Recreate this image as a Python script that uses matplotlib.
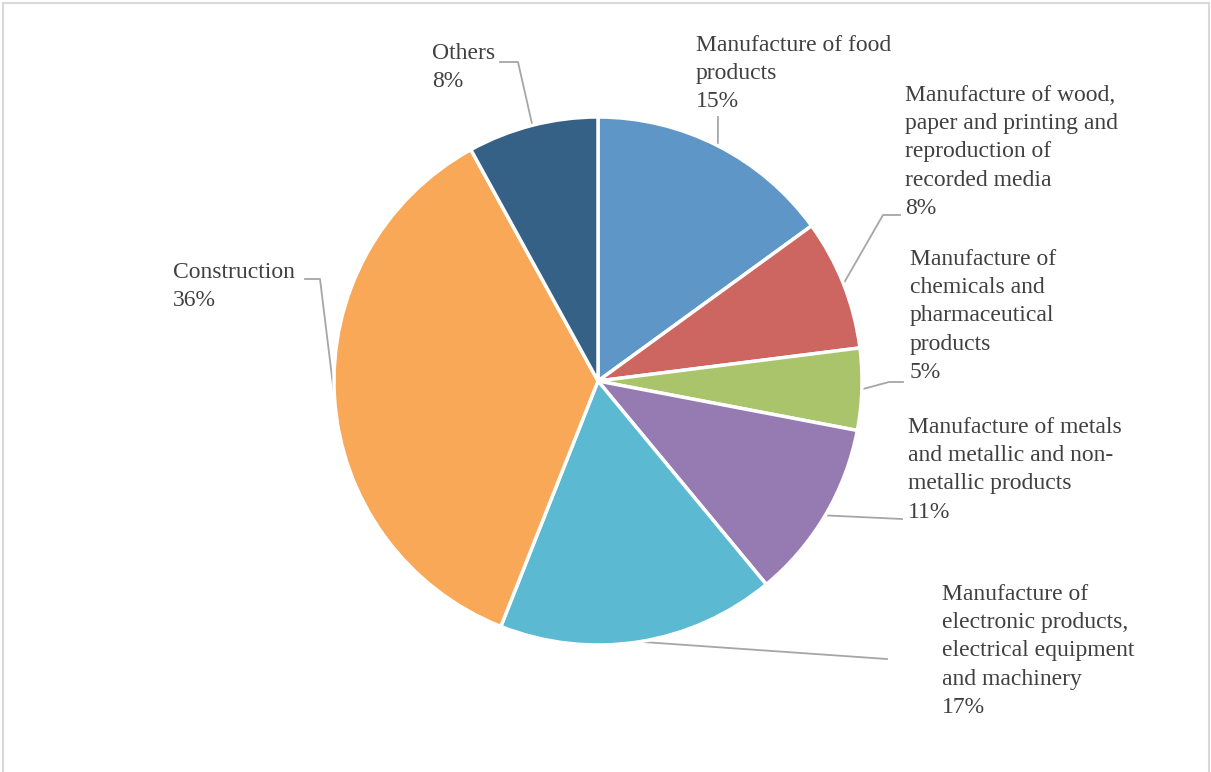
import matplotlib.pyplot as plt
from matplotlib.patches import Rectangle
import numpy as np

# Shares by sector (%), clockwise from 12 o'clock
labels = [
    "Manufacture of food\nproducts",
    "Manufacture of wood,\npaper and printing and\nreproduction of\nrecorded media",
    "Manufacture of\nchemicals and\npharmaceutical\nproducts",
    "Manufacture of metals\nand metallic and non-\nmetallic products",
    "Manufacture of\nelectronic products,\nelectrical equipment\nand machinery",
    "Construction",
    "Others",
]
shares = [15, 8, 5, 11, 17, 36, 8]
colors = ["#5F96C8", "#CD6560", "#A9C46B", "#957BB2", "#5BB9D2", "#F8A857", "#366187"]

# layout (pixel coords, y from top): label top-left, and leader elbow points
label_pos = [(696, 35), (905, 85), (910, 249), (908, 417), (942, 584), (173, 262), (432, 43)]
leader_pts = [
    [(718, 117)],
    [(883, 215), (900, 215)],
    [(889, 382), (903, 382)],
    [(902, 519)],
    [(887, 659)],
    [(320, 279), (305, 279)],
    [(518, 62), (500, 62)],
]

W, H = 1211, 772
cx, cy, R = 598, 381, 264

plt.rcParams['font.family'] = ['Liberation Serif', 'DejaVu Serif']
fig = plt.figure(figsize=(W / 100, H / 100), dpi=100)
ax = fig.add_axes([0, 0, 1, 1])
ax.set_xlim(0, W)
ax.set_ylim(0, H)
ax.set_aspect('equal')
ax.axis('off')

wedges, _ = ax.pie(shares, colors=colors, startangle=90, counterclock=False,
                   center=(cx, H - cy), radius=R,
                   wedgeprops=dict(edgecolor='white', linewidth=2.5))
ax.set_xlim(0, W)
ax.set_ylim(0, H)

for w, lab, share, (tx, ty), pts in zip(wedges, labels, shares, label_pos, leader_pts):
    mid = np.deg2rad((w.theta1 + w.theta2) / 2)
    sx, sy = cx + R * np.cos(mid), (H - cy) + R * np.sin(mid)
    xs = [sx] + [p[0] for p in pts]
    ys = [sy] + [H - p[1] for p in pts]
    ax.plot(xs, ys, color='#A6A6A6', lw=1.3, zorder=0)
    ax.text(tx, H - ty, f"{lab}\n{share}%", ha='left', va='top', fontsize=17,
            color='#404040', linespacing=1.45)

fig.patches.append(Rectangle((2.5 / W, -0.01), (W - 5) / W, (H - 2.5) / H + 0.01,
                             transform=fig.transFigure, fill=False,
                             edgecolor='#D9D9D9', lw=1.5))

fig.savefig('out.png', dpi=100)
